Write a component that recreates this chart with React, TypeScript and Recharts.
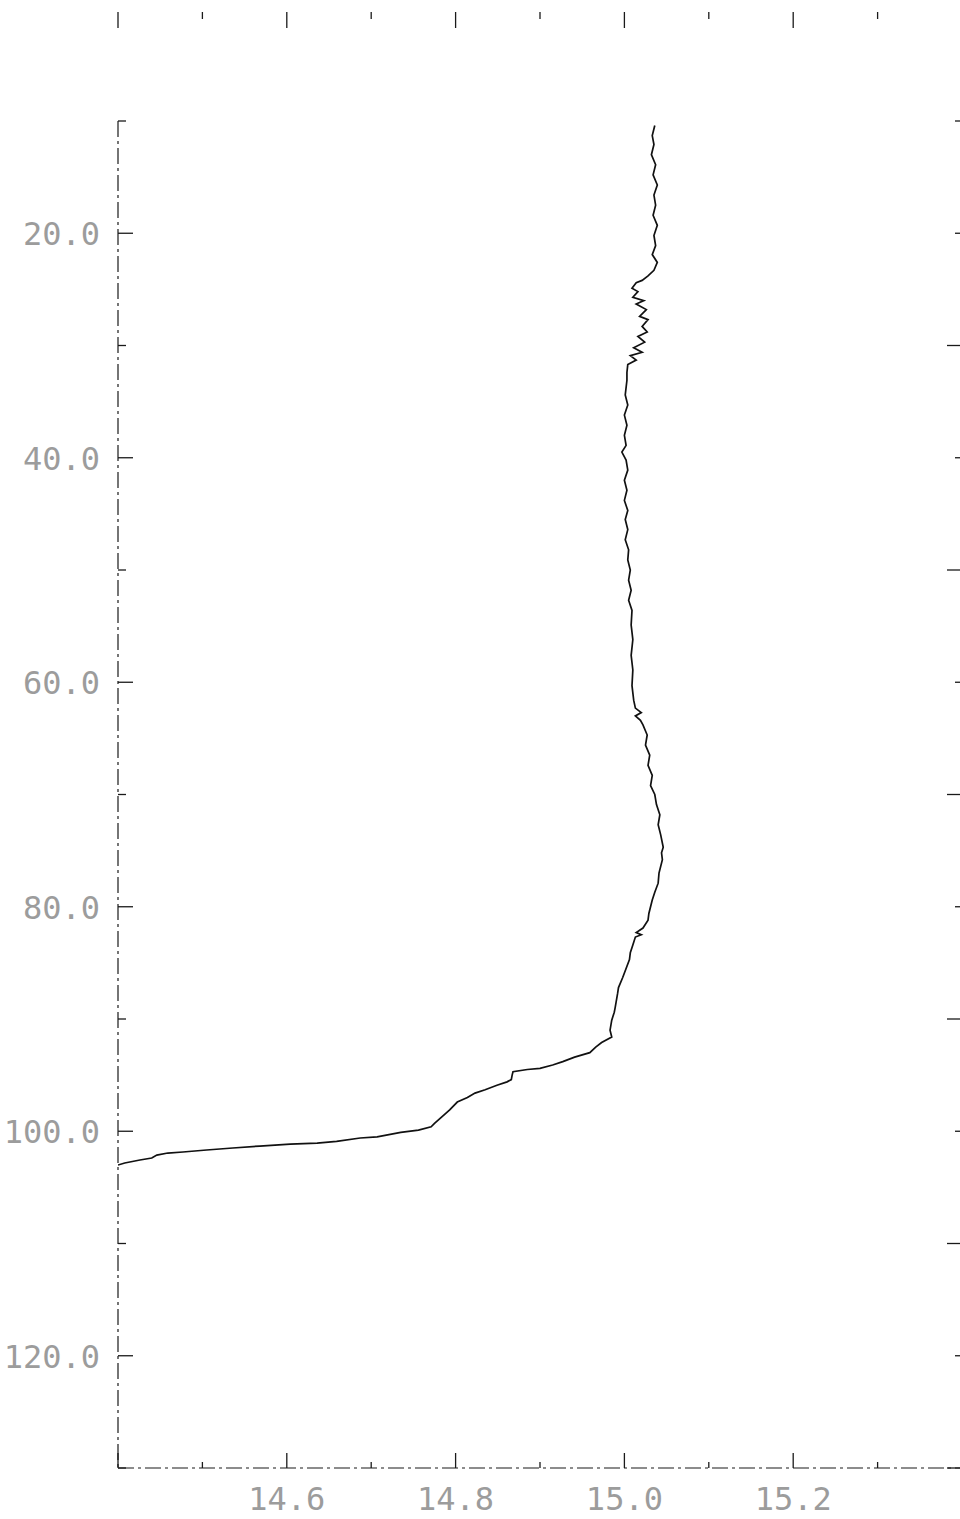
// Temperature / depth profile, redrawn from a scanned plot.
// Depth grows downward, temperature along the bottom; the scan's faint
// dot-matrix labels and broken axis lines are imitated with grey mono text
// and dashed strokes.

import { Line, LineChart, XAxis, YAxis } from "recharts";

// depth (m), top to bottom
const depth = [
  10.4, 11.3, 12.1, 13.0, 13.9, 14.8, 15.7, 16.6, 17.5, 18.4, 19.3, 20.2, 21.1, 21.9, 22.6, 23.3,
  23.8, 24.2, 24.4, 24.9, 25.2, 25.7, 26.0, 26.3, 26.8, 27.4, 27.7, 28.3, 28.8, 29.2, 29.7, 30.2,
  30.6, 30.9, 31.3, 31.7, 32.4,
  33.1, 34.4, 35.3, 36.2, 37.1, 38.0, 38.9, 39.5, 40.2, 41.1, 42.0, 42.9, 43.8, 44.7, 45.5, 46.4,
  47.3, 48.2, 49.1, 50.0, 50.9, 51.8, 52.7, 53.6, 54.9, 56.2, 57.6, 58.9, 60.3, 61.6, 62.3, 62.7,
  63.0, 63.4,
  63.8, 64.7, 65.6, 66.5, 67.4, 68.3, 69.2, 70.0, 70.9, 71.8, 72.7, 73.6, 74.7, 75.2, 75.8, 77.0,
  77.9, 78.7, 79.4, 80.6, 81.2, 81.9, 82.3, 82.5, 82.7, 83.4, 84.1, 84.7, 86.3, 87.2, 87.7, 89.0,
  89.4, 90.1, 91.0, 91.6, 92.1,
  92.5, 93.0, 93.4, 93.8, 94.1, 94.4, 94.5, 94.7, 95.0, 95.4, 95.6, 95.9, 96.3, 96.6, 97.0, 97.4,
  98.1, 98.7, 99.3, 99.6, 99.9,
  100.1, 100.5, 100.6, 100.9, 101.05, 101.14, 101.32, 101.49, 101.67, 101.85, 101.94, 102.12,
  102.38, 102.56, 102.83, 103.01,
];

// temperature (°C) at each depth above
const temperature = [
  15.036, 15.033, 15.035, 15.032, 15.037, 15.034, 15.039, 15.035, 15.037, 15.034, 15.039, 15.035,
  15.037, 15.033, 15.039, 15.035, 15.028, 15.021, 15.014, 15.009, 15.016, 15.01, 15.023, 15.014,
  15.026, 15.018, 15.028, 15.021, 15.027, 15.016, 15.024, 15.011, 15.021, 15.007, 15.014, 15.004,
  15.003,
  15.003, 15.001, 15.004, 15.0, 15.003, 15.0, 15.002, 14.997, 15.002, 15.004, 15.0, 15.003, 15.0,
  15.004, 15.001, 15.004, 15.001, 15.005, 15.004, 15.007, 15.005, 15.008, 15.005, 15.009, 15.008,
  15.01, 15.008, 15.01, 15.009, 15.011, 15.013, 15.02, 15.013, 15.019,
  15.022, 15.027, 15.025, 15.03, 15.028, 15.033, 15.031, 15.036, 15.038, 15.042, 15.04, 15.043,
  15.046, 15.044, 15.045, 15.041, 15.04, 15.036, 15.033, 15.029, 15.028, 15.022, 15.014, 15.02,
  15.013, 15.01, 15.007, 15.006, 14.998, 14.993, 14.992, 14.989, 14.988, 14.985, 14.983, 14.985,
  14.973,
  14.966, 14.959, 14.941, 14.927, 14.915, 14.9, 14.885, 14.868, 14.867, 14.866, 14.861, 14.849,
  14.835, 14.823, 14.814, 14.802, 14.793, 14.784, 14.775, 14.771, 14.756,
  14.735, 14.707, 14.687, 14.659, 14.636, 14.604, 14.568, 14.536, 14.505, 14.477, 14.459, 14.446,
  14.44, 14.426, 14.408, 14.4,
];

const tempTicks = [14.4, 14.5, 14.6, 14.7, 14.8, 14.9, 15.0, 15.1, 15.2, 15.3, 15.4];
const tempLabels = ["14.6", "14.8", "15.0", "15.2"];
const depthTicks = [10, 20, 30, 40, 50, 60, 70, 80, 90, 100, 110, 120, 130];
const depthLabels = ["20.0", "40.0", "60.0", "80.0", "100.0", "120.0"];

const rows = depth.map((d, i) => ({ depth: d, temp: temperature[i] }));

const INK = "#1a1a1a";
const LABEL = "#9c9c9c";
const labelFont = { fontFamily: "DejaVu Sans Mono", fontSize: 32 } as const;
const axisLine = { stroke: INK, strokeWidth: 1.2, strokeDasharray: "16 4 3 4" };

const isMajorTemp = (v: number) => Math.round(v * 10) % 2 === 0;

function BottomTick({ x, y, payload }: any) {
  const v = payload.value as number;
  const label = v.toFixed(1);
  const len = isMajorTemp(v) ? 15 : 6;
  return (
    <g>
      <line x1={x} x2={x} y1={y} y2={y - len} stroke={INK} strokeWidth={1.3} />
      {tempLabels.includes(label) && (
        <text x={x} y={y + 42} textAnchor="middle" fill={LABEL} {...labelFont}>
          {label}
        </text>
      )}
    </g>
  );
}

// detached row of ticks near the top edge of the scan
function TopTick({ x, y, payload }: any) {
  const len = isMajorTemp(payload.value) ? 16 : 7;
  return <line x1={x} x2={x} y1={y - 109} y2={y - 109 + len} stroke={INK} strokeWidth={1.3} />;
}

function LeftTick({ x, y, payload }: any) {
  const v = payload.value as number;
  const label = v.toFixed(1);
  const len = v % 20 === 0 ? 15 : 8;
  return (
    <g>
      <line x1={x} x2={x + len} y1={y} y2={y} stroke={INK} strokeWidth={1.3} />
      {depthLabels.includes(label) && (
        <text x={x - 18} y={y + 12} textAnchor="end" fill={LABEL} {...labelFont}>
          {label}
        </text>
      )}
    </g>
  );
}

function RightTick({ x, y, payload }: any) {
  const len = payload.value % 20 === 10 && payload.value !== 10 ? 15 : 7;
  return <line x1={x - len} x2={x} y1={y} y2={y} stroke={INK} strokeWidth={1.3} />;
}

export default function App() {
  return (
    <div
      style={{
        position: "absolute",
        left: 0,
        top: 0,
        width: 960,
        height: 1519,
        overflow: "hidden",
        background: "#fff",
      }}
    >
      <LineChart
        layout="vertical"
        width={964}
        height={1519}
        data={rows}
        margin={{ top: 101, right: 0, bottom: 0, left: 0 }}
      >
        <XAxis
          xAxisId="bottom"
          type="number"
          dataKey="temp"
          orientation="bottom"
          domain={[14.4, 15.4]}
          ticks={tempTicks}
          interval={0}
          allowDataOverflow
          height={51}
          tickSize={0}
          tickMargin={0}
          tickLine={false}
          axisLine={axisLine}
          tick={<BottomTick />}
        />
        <XAxis
          xAxisId="top"
          type="number"
          dataKey="temp"
          orientation="top"
          domain={[14.4, 15.4]}
          ticks={tempTicks}
          interval={0}
          allowDataOverflow
          height={20}
          tickSize={0}
          tickMargin={0}
          tickLine={false}
          axisLine={false}
          tick={<TopTick />}
        />
        <YAxis
          yAxisId="left"
          type="number"
          dataKey="depth"
          domain={[10, 130]}
          ticks={depthTicks}
          interval={0}
          allowDataOverflow
          width={118}
          tickSize={0}
          tickMargin={0}
          tickLine={false}
          axisLine={axisLine}
          tick={<LeftTick />}
        />
        <YAxis
          yAxisId="right"
          type="number"
          dataKey="depth"
          orientation="right"
          domain={[10, 130]}
          ticks={depthTicks}
          interval={0}
          allowDataOverflow
          width={2}
          tickSize={0}
          tickMargin={0}
          tickLine={false}
          axisLine={false}
          tick={<RightTick />}
        />
        <Line
          xAxisId="bottom"
          yAxisId="left"
          dataKey="temp"
          type="linear"
          stroke="#111"
          strokeWidth={1.7}
          dot={false}
          isAnimationActive={false}
        />
      </LineChart>
    </div>
  );
}
